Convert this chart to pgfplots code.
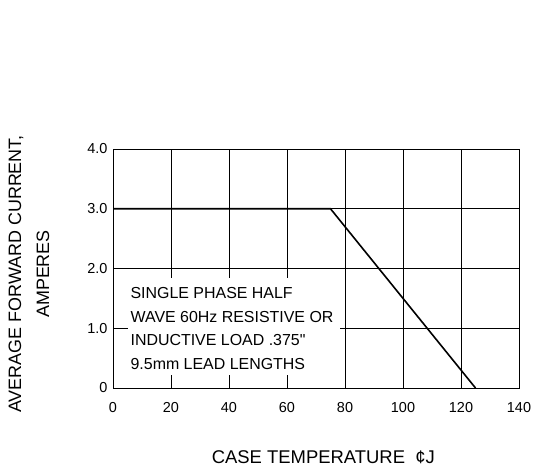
\documentclass[border=0pt]{standalone}
\usepackage{fontspec}
\setmainfont{Liberation Sans}
\usepackage{pgfplots}
\pgfplotsset{compat=1.18}
\begin{document}
\begin{tikzpicture}
\path[use as bounding box] (0,0) rectangle (534bp,472bp);
\begin{axis}[
  at={(113bp,84bp)}, anchor=south west,
  scale only axis, width=406bp, height=239bp,
  xmin=0, xmax=140, ymin=0, ymax=4,
  xtick={0,20,...,140}, ytick={0,1,2,3,4},
  xticklabels={0,20,40,60,80,100,120,140},
  yticklabels={0,1.0,2.0,3.0,4.0},
  grid=major, grid style={black, line width=0.7bp},
  major tick length=0pt,
  axis line style={black, line width=0.9bp},
  tick label style={font=\fontsize{14.5}{17}\selectfont},
  /pgf/number format/assume math mode=true,
  xticklabel style={anchor=north, yshift=-11bp},
  yticklabel style={anchor=east, xshift=-2bp},
  xlabel={CASE TEMPERATURE\ \ ¢J},
  xlabel style={at={(axis description cs:0.518,-0.315)}, anchor=base, font=\fontsize{18.5}{22}\selectfont},
  ylabel={AVERAGE FORWARD CURRENT,\\AMPERES},
  ylabel style={at={(axis description cs:-0.207,0.477)}, anchor=center, align=center, font=\fontsize{18}{28}\selectfont},
]
\addplot[black, line width=1.6bp] coordinates {(0,3.0) (75,3.0) (125,0)};
\fill[white] (axis cs:5.2,0.22) rectangle (axis cs:78.3,1.84);
\node[anchor=north west, inner sep=0pt, align=left, font=\fontsize{16}{23.5}\selectfont] at (axis cs:6.0,1.68)
  {SINGLE PHASE HALF\\WAVE 60Hz RESISTIVE OR\\INDUCTIVE LOAD .375\textquotedbl\\9.5mm LEAD LENGTHS};
\end{axis}
\end{tikzpicture}
\end{document}
